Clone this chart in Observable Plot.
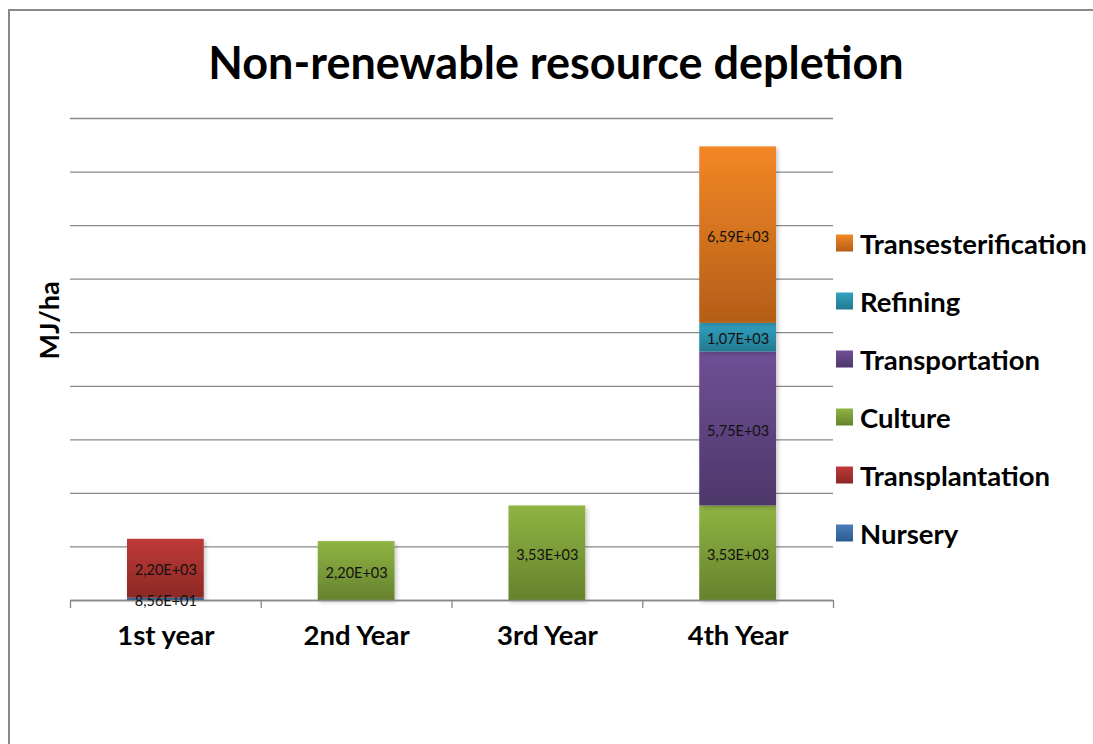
<!DOCTYPE html>
<html>
<head>
<meta charset="utf-8">
<script src="https://cdn.jsdelivr.net/npm/d3@7"></script>
<script src="https://cdn.jsdelivr.net/npm/@observablehq/plot@0.6"></script>
<style>
  html, body { margin: 0; padding: 0; background: #fff; }
  #wrap { position: relative; width: 1093px; height: 744px; overflow: hidden; background: #fff; font-family: Lato, "Open Sans", sans-serif; }
  #frame { position: absolute; left: 8px; top: 9px; width: 1300px; height: 1000px; border: 2px solid #898989; box-sizing: border-box; }
  #title { position: absolute; left: 556px; top: 62px; transform: translate(-50%, -50%); font-weight: 700; font-size: 45px; color: #000; white-space: nowrap; }
  #chart { position: absolute; left: 0; top: 0; }
  #legend { position: absolute; left: 836px; top: 0; }
  .item { position: absolute; left: 0; display: flex; align-items: center; white-space: nowrap; transform: translateY(-50%); }
  .sw { width: 17px; height: 17px; margin-right: 7px; }
  .lab { font-weight: 700; font-size: 27.5px; color: #000; }
</style>
</head>
<body>
<div id="wrap">
  <div id="frame"></div>
  <div id="title">Non-renewable resource depletion</div>
  <div id="chart"></div>
  <div id="legend"></div>
</div>
<script>
// ---- data ----
const years = ["1st year", "2nd Year", "3rd Year", "4th Year"];
const stages = ["Nursery", "Transplantation", "Culture", "Transportation", "Refining", "Transesterification"];
const nursery = [85.6, 0, 0, 0];
const transplantation = [2200, 0, 0, 0];
const culture = [0, 2200, 3530, 3530];
const transportation = [0, 0, 0, 5750];
const refining = [0, 0, 0, 1070];
const transesterification = [0, 0, 0, 6590];
const yGrid = [0, 2000, 4000, 6000, 8000, 10000, 12000, 14000, 16000, 18000];
const colorsTop = ["#4A7EBB", "#BE3A37", "#8FB443", "#6F5096", "#31A2C2", "#F38726"];
const colorsBottom = ["#2C5A8F", "#8C2825", "#66822D", "#4D3769", "#237990", "#B35E18"];

const series = [nursery, transplantation, culture, transportation, refining, transesterification];

// build stacked rows
const rows = [];
years.forEach((yr, i) => {
  let acc = 0;
  stages.forEach((s, k) => {
    const v = series[k][i];
    if (v > 0) {
      rows.push({year: yr, i, stage: s, k, value: v, y1: acc, y2: acc + v});
      acc += v;
    }
  });
});

function fmt(v) {
  const [m, e] = v.toExponential(2).split("e");
  const n = parseInt(e, 10);
  const es = (n < 0 ? "-" : "+") + String(Math.abs(n)).padStart(2, "0");
  return m.replace(".", ",") + "E" + es;
}

const gridColor = "#898989";

const marks = [
  Plot.ruleY(yGrid, {stroke: gridColor, strokeWidth: 1.3}),
  ...stages.map((s, k) => Plot.rectY(rows.filter(d => d.k === k), {
    x1: "i", x2: d => d.i + 1, y1: "y1", y2: "y2",
    insetLeft: 57, insetRight: 57,
    fill: `url(#grad-${k})`
  })),
  Plot.ruleY([0], {stroke: gridColor, strokeWidth: 1.3}),
  Plot.axisX([0, 1, 2, 3, 4], {tickSize: 8, tickFormat: () => "", label: null, stroke: gridColor, strokeWidth: 1.3}),
  Plot.axisX([0.5, 1.5, 2.5, 3.5], {
    tickSize: 0, tickPadding: 25, tickFormat: v => years[Math.floor(v)], label: null,
    fontSize: 27.5, fontWeight: "bold", fill: "#000"
  }),
  Plot.text(rows, {
    x: d => d.i + 0.5, y: d => (d.y1 + d.y2) / 2, text: d => fmt(d.value),
    fontSize: 14.5, fill: "#111", fontFamily: "Lato", dy: 2
  }),
  Plot.text(["MJ/ha"], {frameAnchor: "left", dx: -20, rotate: -90, fontSize: 27, fontWeight: "bold", fill: "#000"})
];

const chart = Plot.plot({
  width: 1093,
  height: 744,
  marginTop: 118,
  marginBottom: 144,
  marginLeft: 70,
  marginRight: 260,
  style: {fontFamily: "Lato, 'Open Sans', sans-serif", background: "transparent", overflow: "visible"},
  x: {type: "linear", domain: [0, 4], axis: null},
  y: {domain: [0, 18000], axis: null},
  marks
});

// gradient + shadow defs
const svg = d3.select(chart);
const defs = svg.insert("defs", ":first-child");
stages.forEach((s, k) => {
  const g = defs.append("linearGradient").attr("id", `grad-${k}`).attr("x1", 0).attr("y1", 0).attr("x2", 0).attr("y2", 1);
  g.append("stop").attr("offset", "0%").attr("stop-color", colorsTop[k]);
  g.append("stop").attr("offset", "100%").attr("stop-color", colorsBottom[k]);
});
const f = defs.append("filter").attr("id", "shadow").attr("x", "-20%").attr("y", "-20%").attr("width", "140%").attr("height", "140%");
f.append("feDropShadow").attr("dx", 2).attr("dy", 2).attr("stdDeviation", 2.2).attr("flood-color", "#000").attr("flood-opacity", 0.22);
svg.selectAll("g[aria-label='rect']").attr("filter", "url(#shadow)");

document.getElementById("chart").appendChild(chart);

// legend (top item = last stage)
const legend = document.getElementById("legend");
const legendY = [533, 475, 417, 359, 301, 243];
stages.forEach((s, k) => {
  const it = document.createElement("div");
  it.className = "item";
  it.style.top = legendY[k] + "px";
  const sw = document.createElement("div");
  sw.className = "sw";
  sw.style.background = `linear-gradient(${colorsTop[k]}, ${colorsBottom[k]})`;
  const lab = document.createElement("span");
  lab.className = "lab";
  lab.textContent = s;
  it.appendChild(sw); it.appendChild(lab);
  legend.appendChild(it);
});
</script>
</body>
</html>
